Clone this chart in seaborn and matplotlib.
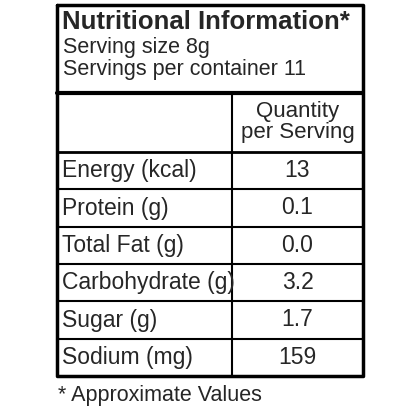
import matplotlib.pyplot as plt
import seaborn as sns

title = "Nutritional Information*"
serving_lines = ["Serving size 8g", "Servings per container 11"]
col_header = "Quantity\nper Serving"
nutrients = ["Energy (kcal)", "Protein (g)", "Total Fat (g)", "Carbohydrate (g)", "Sugar (g)", "Sodium (mg)"]
values = ["13", "0.1", "0.0", "3.2", "1.7", "159"]
footnote = "* Approximate Values"

sns.set_style("white")
plt.rcParams['font.family'] = ['Liberation Sans Narrow', 'Liberation Sans', 'DejaVu Sans']

fig = plt.figure(figsize=(4.16, 4.16), dpi=100)
ax = fig.add_axes([0, 0, 1, 1])
ax.set_xlim(0, 416)
ax.set_ylim(416, 0)
ax.axis("off")

left, right, top, bottom = 57, 363, 5, 376
mid = 232
head_bot = 93
row_top = 152
row_h = (bottom - row_top) / len(nutrients)

# outer box and grid
ax.plot([left, right, right, left, left], [top, top, bottom, bottom, top], color="black", lw=2.5)
ax.plot([left, right], [head_bot, head_bot], color="black", lw=3)
ax.plot([mid, mid], [head_bot, bottom], color="black", lw=1.5)
for i in range(len(nutrients)):
    y = row_top + i * row_h
    ax.plot([left, right], [y, y], color="black", lw=2 if i == 0 else 1.5)

ax.text(62, 22, title, fontsize=18.5, fontweight="bold", va="center", ha="left")
for i, s in enumerate(serving_lines):
    ax.text(63, 48 + i * 22, s, fontsize=15.5, va="center", ha="left")
ax.text((mid + right) / 2, 122, col_header, fontsize=16, va="center", ha="center", linespacing=1.05)

for i, (n, v) in enumerate(zip(nutrients, values)):
    yc = row_top + (i + 0.5) * row_h
    ax.text(62, yc, n, fontsize=16.5, va="center", ha="left")
    ax.text((mid + right) / 2, yc, v, fontsize=16.5, va="center", ha="center")

ax.text(58, 396, footnote, fontsize=15.5, va="center", ha="left")

fig.savefig("out.png", dpi=100)
